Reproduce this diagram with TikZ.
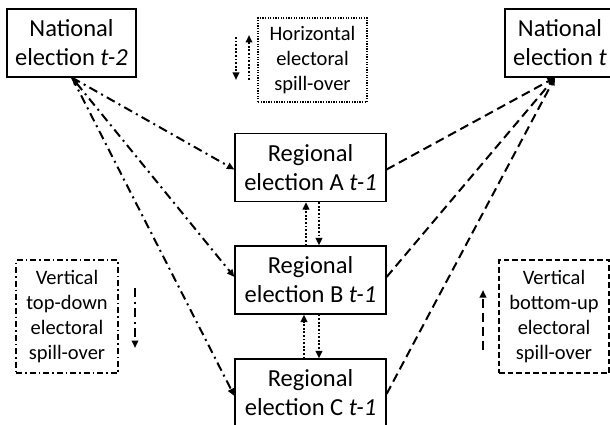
\documentclass[tikz,border=0pt]{standalone}
\usepackage{fontspec}
\setmainfont{Carlito}
\usetikzlibrary{arrows.meta}
\begin{document}
\begin{tikzpicture}[x=1pt,y=-1pt,
  elbox/.style={draw, line width=1.2pt, minimum height=68pt, align=center, inner sep=0pt,
    font=\fontsize{24.5}{29}\selectfont},
  legbox/.style={line width=1.2pt, align=center, inner sep=0pt,
    font=\fontsize{20.5}{25}\selectfont},
  tip/.style={-{Triangle[length=7.5pt,width=6.5pt]}},
  ddot/.style={line width=2pt, dash pattern=on 9pt off 4.5pt on 2pt off 4.5pt},
  ddash/.style={line width=2pt, dash pattern=on 9pt off 5pt},
  ddotted/.style={line width=2pt, dash pattern=on 1.8pt off 1.8pt},
]
\useasboundingbox (0,0) rectangle (610,425);
% election nodes
\node[elbox, minimum width=129pt] (N2) at (71.5,43) {National\\election \textit{t-2}};
\node[elbox, minimum width=110pt] (Nt) at (560,43) {National\\election \textit{t}};
\node[elbox, minimum width=151pt] (A) at (310.5,167.5) {Regional\\election A \textit{t-1}};
\node[elbox, minimum width=151pt] (B) at (310.5,280) {Regional\\election B \textit{t-1}};
\node[elbox, minimum width=151pt] (C) at (310.5,393) {Regional\\election C \textit{t-1}};
% legend boxes
\node[legbox, draw, dash pattern=on 1.3pt off 1.3pt, minimum width=109pt, minimum height=84pt] (H) at (312.5,60) {Horizontal\\electoral\\spill-over};
\node[legbox, draw, dash pattern=on 6pt off 3pt on 1.5pt off 3pt, minimum width=102pt, minimum height=113pt] (TD) at (67,316.5) {Vertical\\top-down\\electoral\\spill-over};
\node[legbox, draw, dash pattern=on 5.5pt off 3pt, minimum width=110pt, minimum height=113pt] (BU) at (554,316.5) {Vertical\\bottom-up\\electoral\\spill-over};
% connector end points
\coordinate (n2out) at ([xshift=0.5pt]N2.south);
\coordinate (ntin) at ([xshift=-5pt]Nt.south);
% top-down (dash-dot)
\draw[ddot, tip] (n2out) -- ([yshift=-2pt]A.west);
\draw[ddot, {Triangle[length=7.5pt,width=6.5pt]}-{Triangle[length=7.5pt,width=6.5pt]}] (n2out) -- ([yshift=3pt]B.west);
\draw[ddot, tip] (n2out) -- ([yshift=-3pt]C.west);
% bottom-up (dashed)
\draw[ddash, tip] ([yshift=-2pt]A.east) -- (ntin);
\draw[ddash, tip] ([yshift=3pt]B.east) -- (ntin);
\draw[ddash, tip] ([yshift=-1pt]C.east) -- (ntin);
% horizontal (dotted)
\draw[ddotted, tip] ([xshift=-4.5pt]B.north) -- ([xshift=-4.5pt]A.south);
\draw[ddotted, tip] ([xshift=8.5pt]A.south) -- ([xshift=8.5pt]B.north);
\draw[ddotted, tip] ([xshift=-6.5pt]C.north) -- ([xshift=-6.5pt]B.south);
\draw[ddotted, tip] ([xshift=8.5pt]B.south) -- ([xshift=8.5pt]C.north);
% legend arrows
\coordinate (h1a) at (236,37); \coordinate (h1b) at (236,80);
\coordinate (h2a) at (249,80); \coordinate (h2b) at (249,35);
\draw[ddotted, tip] (h1a) -- (h1b);
\draw[ddotted, tip] (h2a) -- (h2b);
\coordinate (tda) at (135,288); \coordinate (tdb) at (135,348);
\draw[ddot, tip] (tda) -- (tdb);
\coordinate (bua) at (483,350); \coordinate (bub) at (483,290);
\draw[ddash, tip] (bua) -- (bub);
\end{tikzpicture}
\end{document}
